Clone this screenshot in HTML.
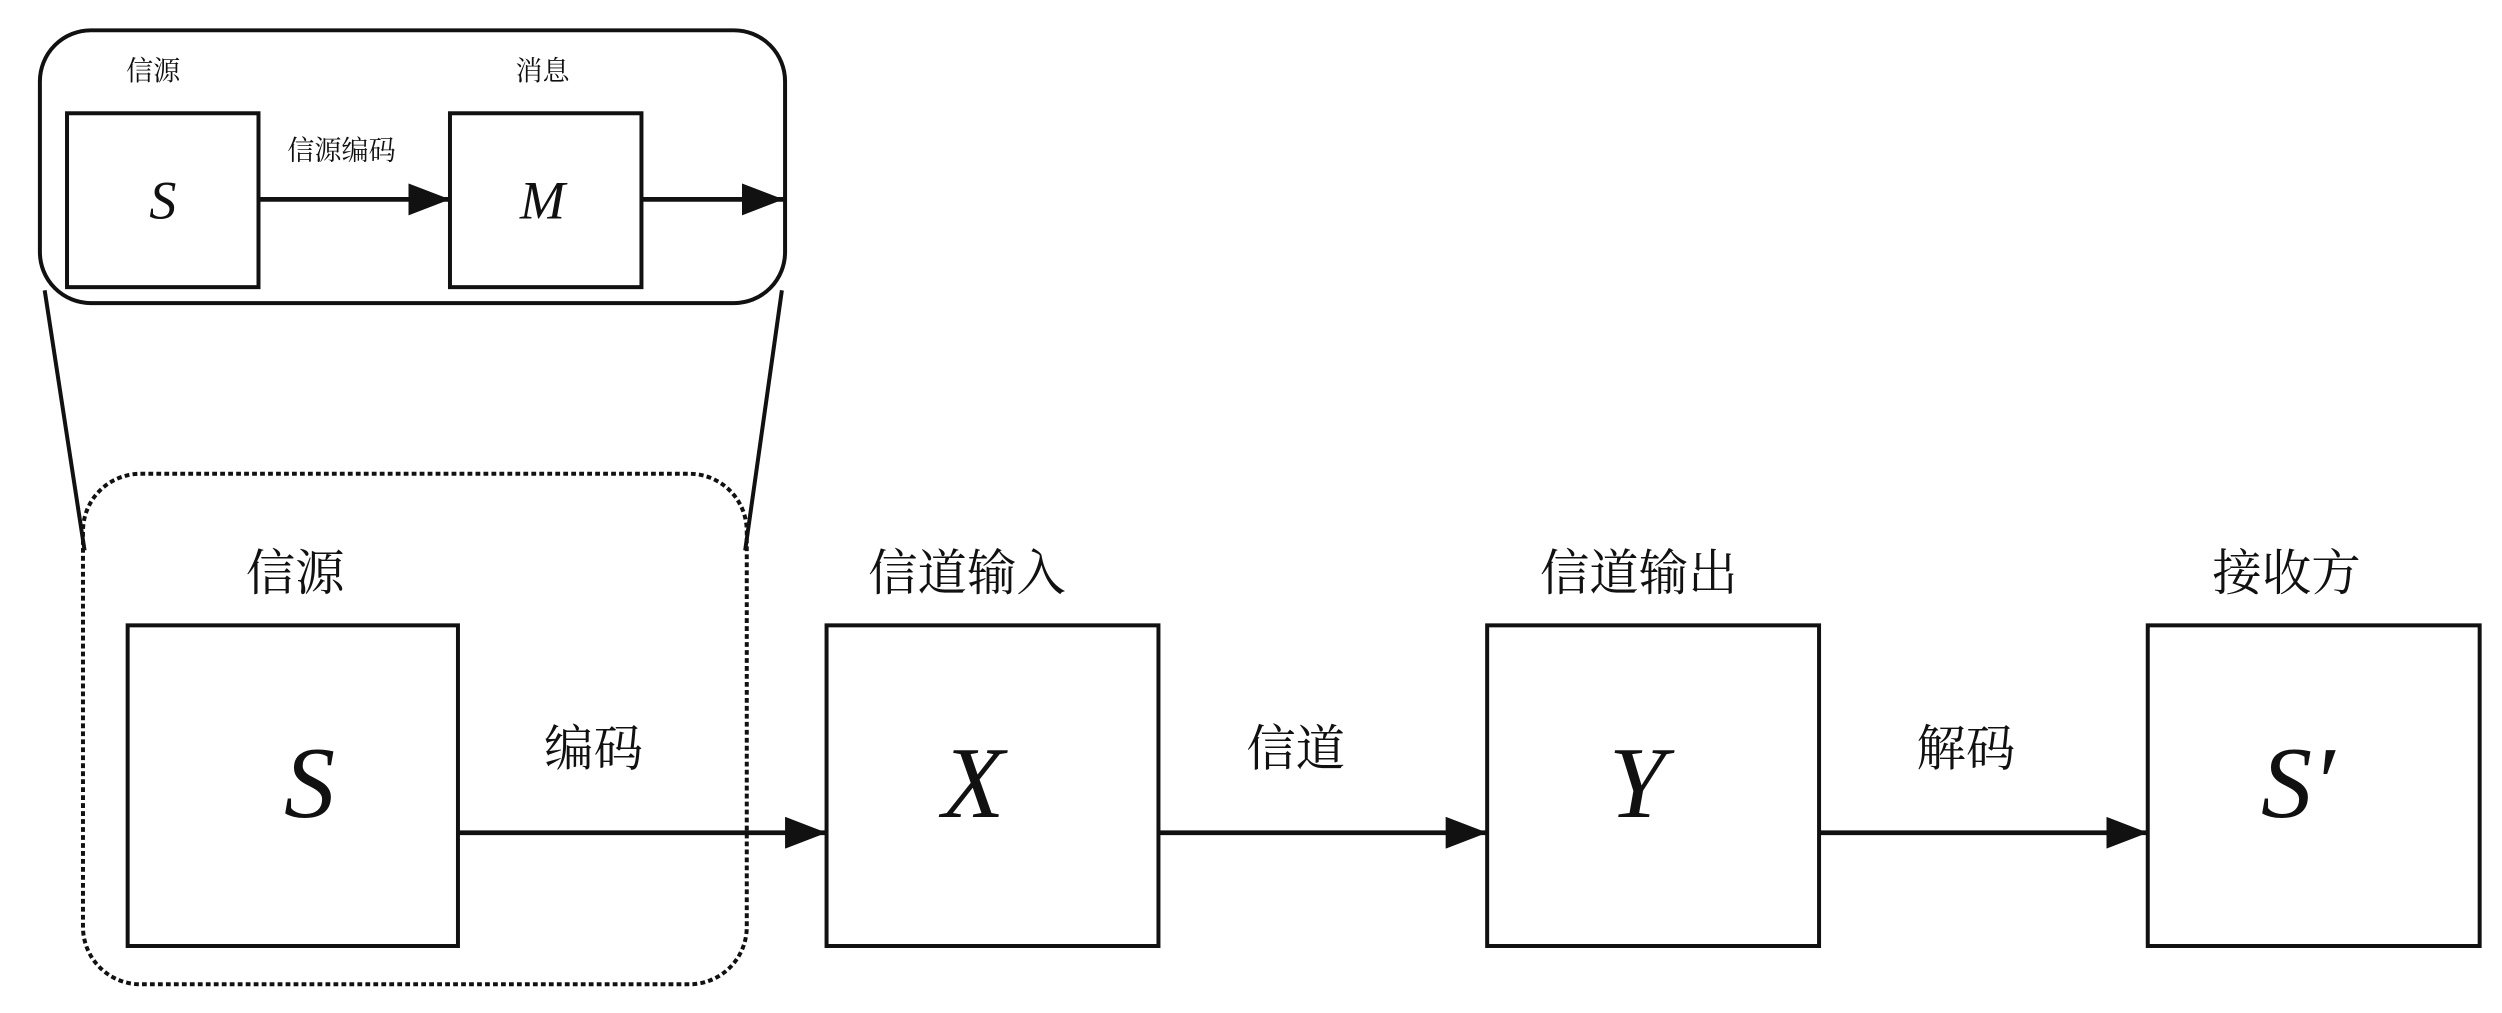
<!DOCTYPE html>
<html><head><meta charset="utf-8"><style>
html,body{margin:0;padding:0;background:#fff;}
svg{display:block;}
.cj{font-family:"Liberation Serif","Noto Serif CJK SC","Noto Sans CJK SC",serif;fill:#111;}
.it{font-family:"Liberation Serif",serif;font-style:italic;fill:#111;}
</style></head><body>
<svg width="2502" height="1013" viewBox="0 0 1568 635" preserveAspectRatio="none" xmlns="http://www.w3.org/2000/svg">
<defs><marker id="a" markerWidth="10" markerHeight="8" refX="10" refY="4" orient="auto" markerUnits="userSpaceOnUse"><path d="M0,0 L10,4 L0,8 Z" fill="#111"/></marker>
<marker id="b" markerWidth="26" markerHeight="20" refX="26" refY="10" orient="auto" markerUnits="userSpaceOnUse"><path d="M0,0 L26,10 L0,20 Z" fill="#111"/></marker></defs>
<g fill="none" stroke="#111" stroke-width="2.5">
<rect x="25" y="19" width="467" height="171" rx="32"/>
<rect x="42" y="71" width="120" height="109"/>
<rect x="282" y="71" width="120" height="109"/>
<line x1="162" y1="125" x2="282" y2="125" marker-end="url(#b)" stroke-width="3"/>
<line x1="402" y1="125" x2="491" y2="125" marker-end="url(#b)" stroke-width="3"/>
<line x1="28" y1="182" x2="53" y2="345"/>
<line x1="490" y1="182" x2="467" y2="345"/>
<rect x="52" y="297" width="416" height="320" rx="36" stroke-dasharray="3,2"/>
<rect x="80" y="392" width="207" height="201"/>
<rect x="518" y="392" width="208" height="201"/>
<rect x="932" y="392" width="208" height="201"/>
<rect x="1346" y="392" width="208" height="201"/>
<line x1="287" y1="522" x2="518" y2="522" marker-end="url(#b)" stroke-width="3"/>
<line x1="726" y1="522" x2="932" y2="522" marker-end="url(#b)" stroke-width="3"/>
<line x1="1140" y1="522" x2="1346" y2="522" marker-end="url(#b)" stroke-width="3"/>
</g>
<g class="cj" text-anchor="middle">
<text x="96" y="50" font-size="17">信源</text>
<text x="340" y="50" font-size="17">消息</text>
<text x="214" y="100" font-size="17">信源编码</text>
<text x="185" y="370" font-size="31">信源</text>
<text x="606" y="370" font-size="31">信道输入</text>
<text x="1027" y="370" font-size="31">信道输出</text>
<text x="1433" y="370" font-size="31">接收方</text>
<text x="372" y="480" font-size="31">编码</text>
<text x="812" y="480" font-size="31">信道</text>
<text x="1232" y="480" font-size="31">解码</text>
</g>
<g class="it" text-anchor="middle">
<text x="102" y="137" font-size="34">S</text>
<text x="340" y="137" font-size="34">M</text>
<text x="194" y="512" font-size="64">S</text>
<text x="610" y="512" font-size="64">X</text>
<text x="1026" y="512" font-size="64">Y</text>
<text x="1440" y="512" font-size="64">S′</text>
</g>
</svg>
</body></html>
